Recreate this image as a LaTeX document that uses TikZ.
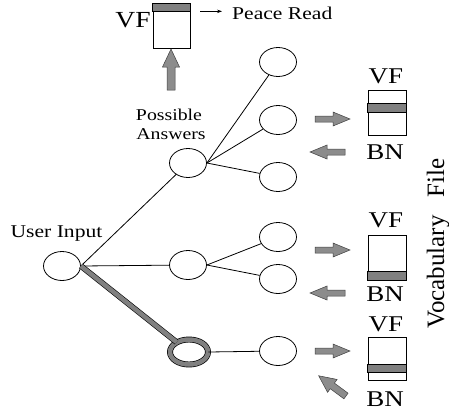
\documentclass[tikz,border=0pt]{standalone}
\usepackage{fontspec}
\setmainfont{Liberation Serif}[FakeStretch=1.2]
\newfontfamily\vocabfont{Liberation Serif}
\usetikzlibrary{shapes.geometric,arrows.meta}

\definecolor{bandgray}{gray}{0.5}
\definecolor{arrowgray}{gray}{0.55}

\tikzset{
  state/.style={ellipse, draw, line width=0.8pt, minimum width=37pt,
    minimum height=29pt, inner sep=0pt},
  chosen/.style={ellipse, draw=black, line width=0.7pt, double=bandgray,
    double distance=4.5pt, minimum width=38pt, minimum height=25pt, inner sep=0pt},
  link/.style={line width=0.8pt},
  thicklink/.style={draw=black, line width=0.6pt, double=bandgray, double distance=4.5pt},
  filebox/.style={rectangle, draw, fill=white, line width=0.8pt, inner sep=0pt,
    minimum width=38pt, minimum height=45pt},
  band/.style={draw, fill=bandgray, line width=0.7pt},
  lbl/.style={inner sep=0pt, anchor=base},
  filelbl/.style={lbl, font=\fontsize{22.5}{22.5}\selectfont},
  fatarrow/.style={fill=arrowgray, draw=black!75, line width=0.5pt, line join=miter},
}

% Block arrow: tail point, direction angle, length, half shaft width,
% half head width, head length
\newcommand\blockarrow[6]{%
  \begin{scope}[shift={(#1)}, rotate=#2]
    \filldraw[fatarrow] (0,-#4) -- ({#3-#6},-#4) -- ({#3-#6},-#5) -- (#3,0)
      -- ({#3-#6},#5) -- ({#3-#6},#4) -- (0,#4) -- cycle;
  \end{scope}}

\begin{document}
\begin{tikzpicture}[x=1pt,y=-1pt]
  \fill[white] (0,0) rectangle (449,410);
  \useasboundingbox (0,0) rectangle (449,410);

  % search tree
  \node[state]  (user) at (62,266) {};
  \node[state]  (a1) at (188,163) {};
  \node[state]  (a2) at (188,265) {};
  \node[chosen] (a3) at (189,352) {};
  \node[state]  (r1) at (278,62) {};
  \node[state]  (r2) at (278,120) {};
  \node[state]  (r3) at (278,177) {};
  \node[state]  (r4) at (278,237) {};
  \node[state]  (r5) at (278,279) {};
  \node[state]  (r6) at (278,351) {};

  \draw[link] (user.east) -- (a1);
  \draw[link] (user.east) -- (a2);
  \draw[thicklink] (user.east) -- (a3);
  \draw[link] (a1.east) -- (r1);
  \draw[link] (a1.east) -- (r2);
  \draw[link] (a1.east) -- (r3);
  \draw[link] (a2.east) -- (r4);
  \draw[link] (a2.east) -- (r5);
  \draw[link] (a3.east) -- (r6);

  \node[lbl, font=\fontsize{18}{18}\selectfont] (userlbl) at (56.5,237) {User Input};
  \node[lbl, font=\fontsize{16.5}{16.5}\selectfont] (poss) at (169,120.7) {Possible};
  \node[lbl, font=\fontsize{16.5}{16.5}\selectfont] (answ) at (171,139.3) {Answers};

  % vocabulary file being read
  \node[filebox, minimum width=37pt, minimum height=44pt] (topbox) at (171.5,26) {};
  \draw[band] (topbox.north west) rectangle ([yshift=-8pt]topbox.north east);
  \node[lbl, font=\fontsize{23}{23}\selectfont] (topvf) at (133,27) {VF};
  \node[lbl, anchor=base west, font=\fontsize{18}{18}\selectfont] (peace) at (232,19) {Peace Read};
  \draw[line width=0.6pt, -{Stealth[length=5pt,width=3.5pt]}]
    ([xshift=-32pt,yshift=1.5pt]peace.west) -- ([xshift=-10pt,yshift=1.5pt]peace.west);
  \blockarrow{171,90}{90}{41}{4}{8.5}{18}

  % vocabulary file blocks
  \node[filebox] (box1) at (387,112.5) {};
  \draw[band] ([yshift=-14pt]box1.north west) rectangle ([yshift=-23pt]box1.north east);
  \node[filebox] (box2) at (387,257.5) {};
  \draw[band] ([yshift=9pt]box2.south west) rectangle (box2.south east);
  \node[filebox, minimum height=43pt] (box3) at (387,358.5) {};
  \draw[band] ([yshift=-28pt]box3.north west) rectangle ([yshift=-36pt]box3.north east);

  \node[filelbl] (vf1) at (386,83.3) {VF};
  \node[filelbl] (bn1) at (385,159.3) {BN};
  \node[filelbl] (vf2) at (386,227) {VF};
  \node[filelbl] (bn2) at (385,301) {BN};
  \node[filelbl] (vf3) at (386,331) {VF};
  \node[filelbl] (bn3) at (385,406) {BN};

  \blockarrow{315,119}{0}{35}{3}{7}{17}
  \blockarrow{345,152}{180}{35}{3}{7}{17}
  \blockarrow{315,250}{0}{35}{3}{7}{17}
  \blockarrow{345,293}{180}{35}{3}{7}{17}
  \blockarrow{315,351}{0}{35}{3}{7}{17}
  \blockarrow{346,396}{143.5}{34}{3.5}{8}{17}

  \node[lbl, rotate=90, font=\vocabfont\fontsize{25}{25}\selectfont] (vocab) at (444,243.5)
    {Vocabulary\hspace*{18pt}File};
\end{tikzpicture}
\end{document}
